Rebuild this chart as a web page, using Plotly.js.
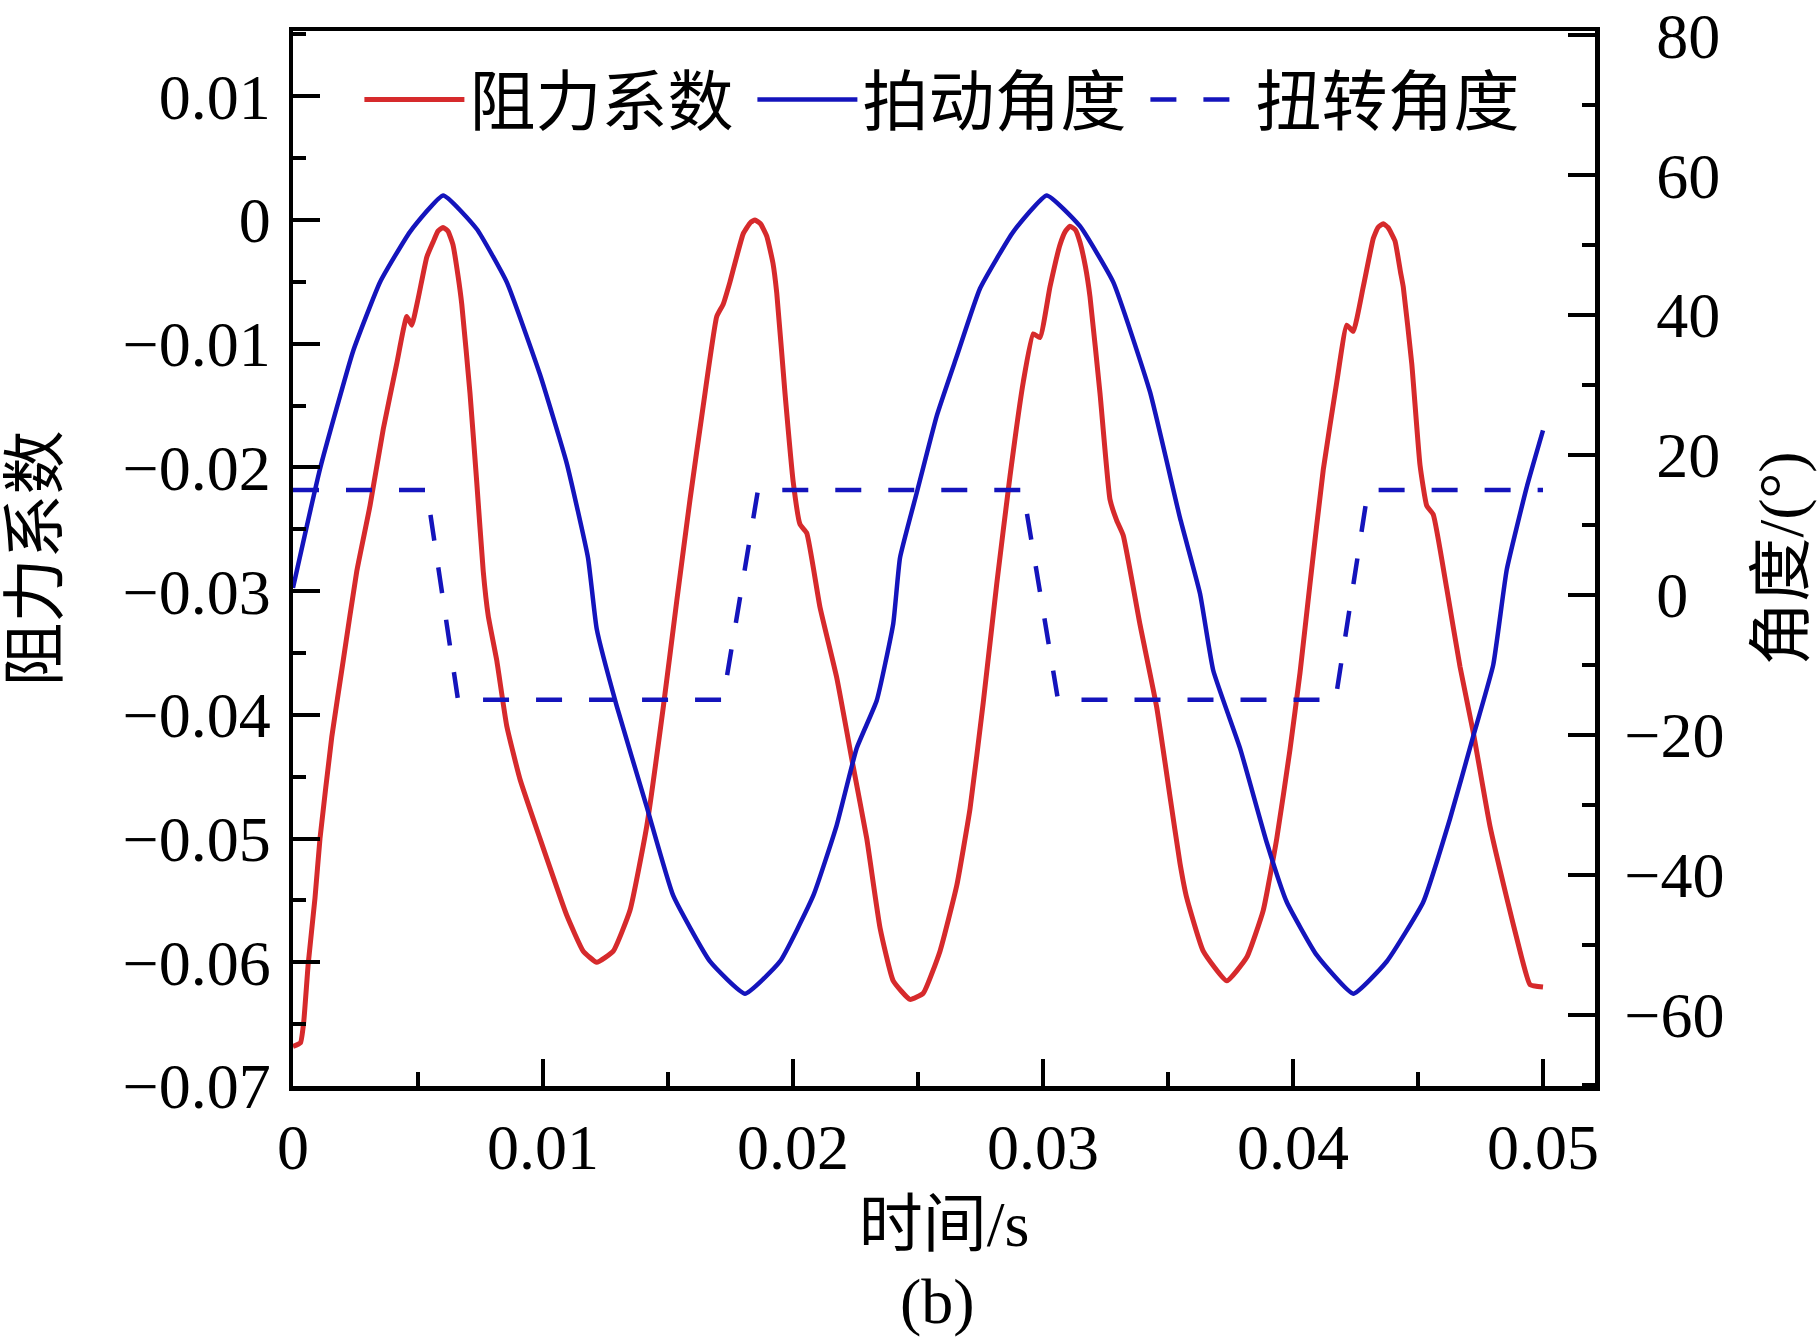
<!DOCTYPE html>
<html>
<head>
<meta charset="utf-8">
<script src="https://cdn.plot.ly/plotly-3.0.1.min.js"></script>
<style>html,body{margin:0;padding:0;background:#fff;}#chart{width:1817px;height:1338px;}</style>
</head>
<body>
<div id="chart"></div>
<script>
// ---- data ----
const seriesNames = ['阻力系数', '拍动角度', '扭转角度'];

const dragTime = [0, 0.0003, 0.00043, 0.00061, 0.00088, 0.00108, 0.00155, 0.00201, 0.00255, 0.00308, 0.00361, 0.00415, 0.00455, 0.00475, 0.00501, 0.00535, 0.0056, 0.0058, 0.006, 0.0062, 0.0064, 0.0066, 0.00675, 0.00708, 0.00735, 0.00761, 0.00781, 0.00815, 0.00855, 0.00908, 0.00988, 0.01095, 0.01161, 0.01215, 0.01281, 0.01348, 0.01415, 0.01481, 0.01535, 0.01588, 0.01641, 0.01695, 0.01721, 0.01748, 0.01801, 0.0183, 0.01848, 0.0187, 0.01895, 0.0192, 0.01935, 0.01968, 0.02001, 0.02028, 0.02055, 0.02108, 0.02175, 0.02241, 0.02295, 0.02348, 0.02401, 0.02468, 0.02521, 0.02588, 0.02655, 0.02708, 0.02761, 0.02815, 0.02868, 0.02921, 0.02961, 0.02988, 0.03028, 0.03068, 0.0309, 0.03108, 0.0313, 0.03148, 0.0317, 0.03188, 0.03228, 0.03268, 0.03295, 0.03321, 0.03388, 0.03455, 0.03508, 0.03548, 0.03575, 0.03641, 0.03735, 0.03815, 0.03881, 0.03935, 0.03988, 0.04028, 0.04068, 0.04121, 0.04175, 0.04215, 0.04241, 0.04281, 0.04321, 0.0434, 0.04361, 0.0438, 0.04408, 0.0443, 0.04441, 0.04475, 0.04508, 0.04535, 0.04561, 0.04615, 0.04668, 0.04721, 0.04788, 0.04855, 0.04908, 0.04948, 0.05];
const dragCoef = [-0.0668, -0.0665, -0.0648, -0.0601, -0.0548, -0.0500, -0.0418, -0.0356, -0.0284, -0.0231, -0.0169, -0.0116, -0.0078, -0.0085, -0.0063, -0.0030, -0.0018, -0.0009, -0.0006, -0.0009, -0.0020, -0.0045, -0.0068, -0.0140, -0.0212, -0.0284, -0.0320, -0.0356, -0.0409, -0.0452, -0.0500, -0.0562, -0.0591, -0.0600, -0.0591, -0.0558, -0.0490, -0.0394, -0.0308, -0.0226, -0.0150, -0.0078, -0.0068, -0.0050, -0.0011, -0.0002, 0.0000, -0.0003, -0.0013, -0.0035, -0.0059, -0.0140, -0.0212, -0.0246, -0.0253, -0.0313, -0.0370, -0.0442, -0.0500, -0.0572, -0.0615, -0.0630, -0.0625, -0.0591, -0.0538, -0.0476, -0.0390, -0.0294, -0.0207, -0.0131, -0.0092, -0.0095, -0.0054, -0.0020, -0.0009, -0.0005, -0.0008, -0.0018, -0.0038, -0.0062, -0.0140, -0.0226, -0.0243, -0.0255, -0.0327, -0.0394, -0.0466, -0.0520, -0.0548, -0.0591, -0.0615, -0.0596, -0.0558, -0.0500, -0.0428, -0.0366, -0.0294, -0.0202, -0.0131, -0.0085, -0.0090, -0.0054, -0.0015, -0.0006, -0.0003, -0.0006, -0.0017, -0.0042, -0.0054, -0.0116, -0.0198, -0.0231, -0.0238, -0.0298, -0.0361, -0.0414, -0.0490, -0.0548, -0.0591, -0.0618, -0.0620];

const flapTime = [0, 0.00108, 0.00241, 0.00348, 0.00468, 0.00601, 0.00735, 0.00855, 0.00988, 0.01095, 0.0118, 0.01215, 0.01295, 0.01415, 0.01521, 0.01668, 0.01808, 0.01948, 0.02081, 0.02175, 0.02255, 0.02335, 0.02401, 0.02428, 0.02495, 0.02575, 0.02655, 0.02748, 0.02881, 0.03015, 0.03148, 0.03281, 0.03428, 0.03548, 0.03628, 0.03681, 0.03788, 0.03895, 0.03975, 0.04095, 0.04241, 0.04375, 0.04521, 0.04628, 0.04721, 0.04801, 0.04855, 0.04935, 0.05];
const flapAngle = [1, 18.0, 34.9, 44.7, 51.9, 57.1, 52.3, 44.7, 31.5, 18.8, 5.3, -4.9, -15.9, -30.3, -43.0, -52.4, -57.0, -52.4, -43.0, -32.9, -21.9, -15.1, -4.1, 5.3, 14.6, 25.6, 34.1, 43.8, 51.9, 57.1, 52.7, 44.7, 29.0, 11.0, 0.2, -10.8, -21.9, -35.4, -43.9, -51.5, -57.0, -52.4, -43.9, -32.0, -20.2, -10.0, 3.6, 15.4, 23.5];

const twistTime = [0, 0.00535, 0.0066, 0.0172, 0.0186, 0.0292, 0.0306, 0.0417, 0.0430, 0.05];
const twistAngle = [15, 15, -15, -15, 15, 15, -15, -15, 15, 15];

const xTickVals = [0, 0.01, 0.02, 0.03, 0.04, 0.05];
const xTickText = ['0', '0.01', '0.02', '0.03', '0.04', '0.05'];
const leftTickVals = [0.01, 0, -0.01, -0.02, -0.03, -0.04, -0.05, -0.06, -0.07];
const leftTickText = ['0.01', '0', '\u22120.01', '\u22120.02', '\u22120.03', '\u22120.04', '\u22120.05', '\u22120.06', '\u22120.07'];
const rightTickVals = [80, 60, 40, 20, 0, -20, -40, -60];
const rightTickText = ['\u200280', '\u200260', '\u200240', '\u200220', '\u20020', '\u221220', '\u221240', '\u221260'];

const xTitle = '时间/s';
const leftTitle = '阻力系数';
const rightTitle = '角度/(°)';
const panelLabel = '(b)';

// ---- styling ----
const FONT = '"Liberation Serif", "Times New Roman", "Noto Sans CJK SC", serif';
const RED = '#d62a2c';
const BLUE = '#1414bc';

const traces = [
  {x: dragTime, y: dragCoef, name: seriesNames[0], type: 'scatter', mode: 'lines', yaxis: 'y',
   line: {color: RED, width: 5, shape: 'spline', smoothing: 0.4}},
  {x: flapTime, y: flapAngle, name: seriesNames[1], type: 'scatter', mode: 'lines', yaxis: 'y2',
   line: {color: BLUE, width: 4.5, shape: 'spline', smoothing: 0.4}},
  {x: twistTime, y: twistAngle, name: seriesNames[2], type: 'scatter', mode: 'lines', yaxis: 'y2',
   line: {color: BLUE, width: 4.5, dash: '26px,27px'}}
];

const axisCommon = {
  showline: true, linecolor: '#000', linewidth: 4.5, ticks: 'inside', ticklen: 27, tickwidth: 4,
  tickcolor: '#000', showgrid: false, zeroline: false, tickfont: {family: FONT, size: 64, color: '#000'},
  automargin: false, ticklabeloverflow: 'allow'
};

const layout = {
  width: 1817, height: 1338,
  margin: {l: 293, r: 222, t: 31, b: 252, pad: 0},
  paper_bgcolor: '#fff', plot_bgcolor: '#fff',
  font: {family: FONT, color: '#000'},
  showlegend: true,
  legend: {orientation: 'h', x: 0.051, y: 0.935, xanchor: 'left', yanchor: 'middle',
           font: {family: '"Noto Sans CJK SC", sans-serif', size: 66, color: '#000'},
           itemwidth: 100, entrywidth: 278, entrywidthmode: 'pixels',
           bgcolor: 'rgba(0,0,0,0)', borderwidth: 0, tracegroupgap: 0},
  xaxis: Object.assign({}, axisCommon, {
    range: [0, 0.05208], tickmode: 'array', tickvals: xTickVals, ticktext: xTickText,
    mirror: true, ticklabelstandoff: 2,
    minor: {dtick: 0.005, ticks: 'inside', ticklen: 14, tickwidth: 4, tickcolor: '#000'},
    title: {text: xTitle, font: {family: FONT, size: 64, color: '#000'}, standoff: 20}
  }),
  yaxis: Object.assign({}, axisCommon, {
    range: [-0.07, 0.01528], tickmode: 'array', tickvals: leftTickVals, ticktext: leftTickText,
    ticklabelstandoff: 5,
    minor: {dtick: 0.005, ticks: 'inside', ticklen: 13, tickwidth: 4, tickcolor: '#000'},
    title: {text: leftTitle, font: {family: FONT, size: 64, color: '#000'}, standoff: 47}
  }),
  yaxis2: Object.assign({}, axisCommon, {
    overlaying: 'y', side: 'right', range: [-70.2, 80.6], tickmode: 'array',
    tickvals: rightTickVals, ticktext: rightTickText, ticklabelstandoff: 12,
    minor: {dtick: 10, ticks: 'inside', ticklen: 13, tickwidth: 4, tickcolor: '#000'},
    title: {text: rightTitle, font: {family: FONT, size: 64, color: '#000'}, standoff: 36}
  }),
  annotations: [
    {text: panelLabel, xref: 'paper', yref: 'paper', x: 0.495, y: -0.204, xanchor: 'center', yanchor: 'middle',
     showarrow: false, font: {family: FONT, size: 64, color: '#000'}}
  ]
};

Plotly.newPlot('chart', traces, layout, {displayModeBar: false, staticPlot: true});
</script>
</body>
</html>
